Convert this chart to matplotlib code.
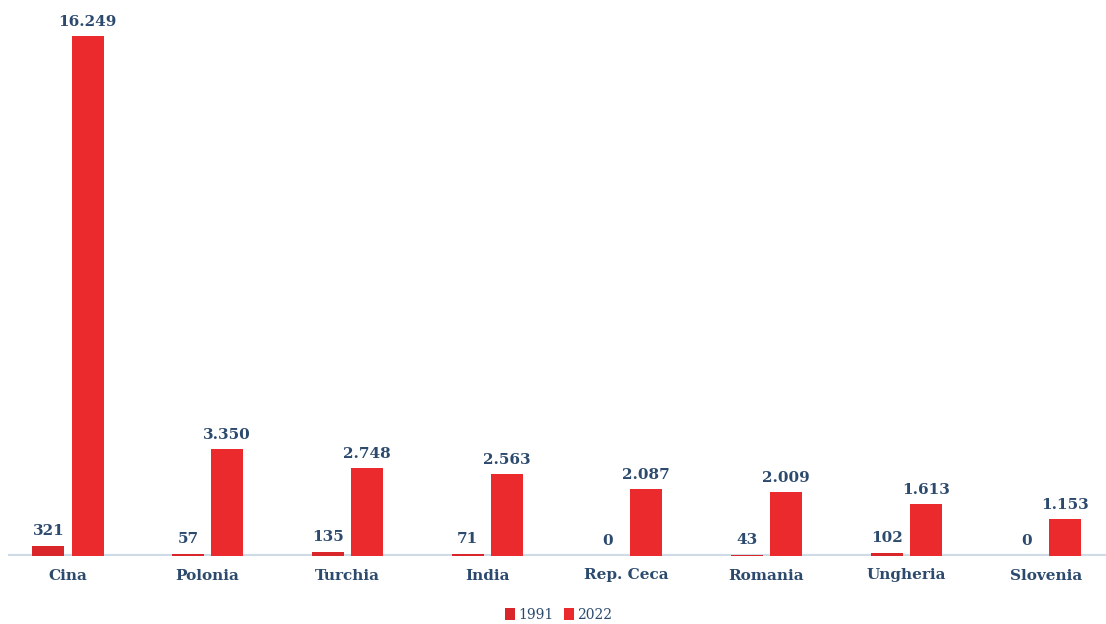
import matplotlib
matplotlib.use("Agg")
import matplotlib.pyplot as plt
import numpy as np

categories = ["Cina", "Polonia", "Turchia", "India", "Rep. Ceca", "Romania", "Ungheria", "Slovenia"]
v1991 = [321, 57, 135, 71, 0, 43, 102, 0]
v2022 = [16249, 3350, 2748, 2563, 2087, 2009, 1613, 1153]
labels1991 = ["321", "57", "135", "71", "0", "43", "102", "0"]
labels2022 = ["16.249", "3.350", "2.748", "2.563", "2.087", "2.009", "1.613", "1.153"]
series_names = ["1991", "2022"]

plt.rcParams['font.family'] = ['DejaVu Serif']
txt = "#2c4a6e"
red22 = "#ea2a2c"
red91 = "#d8262a"

fig = plt.figure(figsize=(11.06, 6.24), dpi=100)
ax = fig.add_axes([0, 68/624, 1, 556/624])
x = np.arange(len(categories))
w = 0.229
off = 0.14
b1 = ax.bar(x - off, v1991, w, color=red91, label=series_names[0])
b2 = ax.bar(x + off, v2022, w, color=red22, label=series_names[1])
ax.set_xlim(-68/139.7, (1106-68)/139.7)
ax.set_ylim(0, 16249*556/520)
for xi, v, l in zip(x, v1991, labels1991):
    ax.text(xi - off, v + 250, l, ha="center", va="bottom", color=txt, fontsize=11, fontweight="bold")
for xi, v, l in zip(x, v2022, labels2022):
    ax.text(xi + off, v + 220, l, ha="center", va="bottom", color=txt, fontsize=11, fontweight="bold")
ax.axhline(0, xmin=10/1106, xmax=1, color="#cfdce8", lw=3, zorder=0)
for s in ax.spines.values():
    s.set_visible(False)
ax.set_yticks([])
ax.set_xticks(x)
ax.set_xticklabels(categories, color=txt, fontsize=11, fontweight="bold")
ax.tick_params(axis="x", length=0, pad=9)
fig.legend(handles=[b1, b2], labels=series_names, loc="center", bbox_to_anchor=(0.505, 9/624),
           ncol=2, frameon=False, fontsize=10, labelcolor=txt, handlelength=0.7, handleheight=0.9,
           handletextpad=0.2, columnspacing=0.8, borderpad=0)
fig.savefig("out.png", dpi=100)
